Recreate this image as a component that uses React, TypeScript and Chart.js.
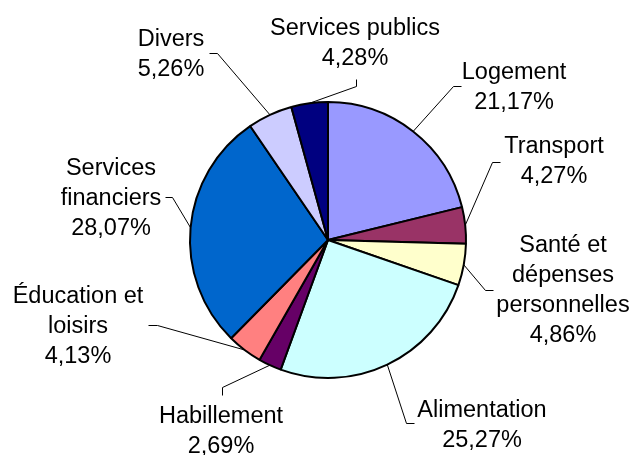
import React, { useEffect, useRef } from "react";
import { Chart, registerables } from "chart.js";

Chart.register(...registerables);

const categories = [
  "Logement",
  "Transport",
  "Santé et\ndépenses\npersonnelles",
  "Alimentation",
  "Habillement",
  "Éducation et\nloisirs",
  "Services\nfinanciers",
  "Divers",
  "Services publics",
];
const values = [21.17, 4.27, 4.86, 25.27, 2.69, 4.13, 28.07, 5.26, 4.28];
const colors = [
  "#9999FF",
  "#993366",
  "#FFFFCC",
  "#CCFFFF",
  "#660066",
  "#FF8080",
  "#0066CC",
  "#CCCCFF",
  "#000080",
];

// Layout of labels relative to pie centre: text anchor (centre x, first baseline) and leader elbow points
const labelLayout = [
  { tx: 186, ty: -161, path: [[133, -154], [125, -154]] },
  { tx: 226, ty: -87, path: [[172, -78], [164, -78]] },
  { tx: 235, ty: 12, path: [[165, 50], [157, 50]] },
  { tx: 154, ty: 177, path: [[86, 183], [78, 183]] },
  { tx: -107, ty: 183, path: [[-106, 155], [-106, 147]] },
  { tx: -250, ty: 63, path: [[-180, 85], [-171, 85]] },
  { tx: -217, ty: -65, path: [[-163, -43], [-156, -43]] },
  { tx: -157, ty: -194, path: [[-119, -187], [-111, -187]] },
  { tx: 27, ty: -205, path: [[28, -161], [28, -154]] },
];

const FONT = "23.5px 'Liberation Sans', Arial, sans-serif";
const LINE_H = 30;

const fmt = (v: number) => v.toFixed(2).replace(".", ",") + "%";

const outsideLabels = {
  id: "outsideLabels",
  afterDraw(chart: any) {
    const ctx = chart.ctx;
    const meta = chart.getDatasetMeta(0);
    ctx.save();
    meta.data.forEach((arc: any, i: number) => {
      const L = labelLayout[i];
      const cx = arc.x;
      const cy = arc.y;
      const mid = (arc.startAngle + arc.endAngle) / 2;
      const ex = cx + Math.cos(mid) * arc.outerRadius;
      const ey = cy + Math.sin(mid) * arc.outerRadius;
      // leader
      ctx.beginPath();
      ctx.strokeStyle = "#000";
      ctx.lineWidth = 1;
      ctx.moveTo(cx + L.path[0][0] + 0.5, cy + L.path[0][1] + 0.5);
      ctx.lineTo(cx + L.path[1][0] + 0.5, cy + L.path[1][1] + 0.5);
      ctx.lineTo(ex, ey);
      ctx.stroke();
      // text
      const lines = categories[i].split("\n").concat([fmt(values[i])]);
      ctx.font = FONT;
      ctx.fillStyle = "#000";
      ctx.textAlign = "center";
      ctx.textBaseline = "alphabetic";
      lines.forEach((t: string, k: number) => {
        ctx.fillText(t, cx + L.tx, cy + L.ty + k * LINE_H);
      });
    });
    ctx.restore();
  },
};

export default function App() {
  const ref = useRef<HTMLCanvasElement>(null);
  useEffect(() => {
    if (!ref.current) return;
    const chart = new Chart(ref.current, {
      type: "pie",
      data: {
        labels: categories.map((c) => c.replace(/\n/g, " ")),
        datasets: [
          {
            data: values,
            backgroundColor: colors,
            borderColor: "#000",
            borderWidth: 2,
            hoverOffset: 0,
            radius: 138,
          } as any,
        ],
      },
      options: {
        responsive: false,
        animation: false,
        layout: { padding: { left: 22, right: 0, top: 25, bottom: 0 } },
        plugins: {
          legend: { display: false },
          tooltip: { enabled: false },
        },
      },
      plugins: [outsideLabels],
    });
    return () => chart.destroy();
  }, []);
  return (
    <div style={{ position: "fixed", left: 0, top: 0, width: 634, height: 455, background: "#fff" }}>
      <canvas ref={ref} width={634} height={455} style={{ display: "block" }} />
    </div>
  );
}
